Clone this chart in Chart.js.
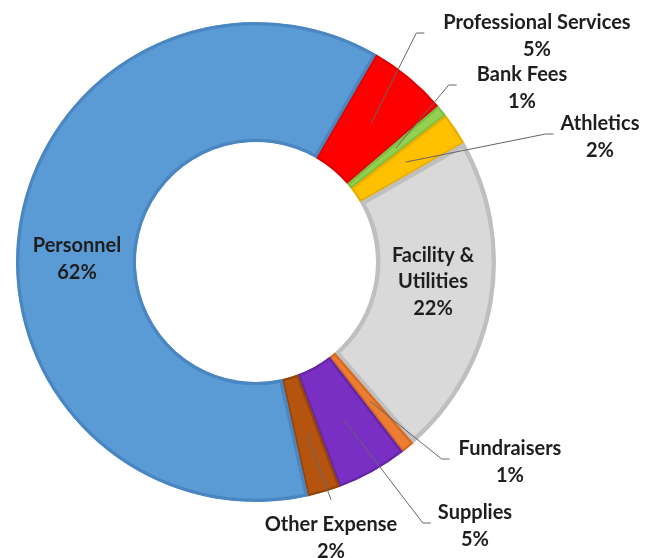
<!DOCTYPE html>
<html>
<head>
<meta charset="utf-8">
<script src="https://cdn.jsdelivr.net/npm/chart.js@4.4.0/dist/chart.umd.min.js"></script>
<style>
    html, body { margin: 0; padding: 0; background: #fff; }
    canvas { display: block; }
</style>
</head>
<body>
<canvas id="expenseChart" width="656" height="558"></canvas>
<script>
// Slices in drawing order, clockwise from the first one (Professional Services)
const categories = ['Professional Services', 'Bank Fees', 'Athletics', ['Facility &', 'Utilities'],
    'Fundraisers', 'Supplies', 'Other Expense', 'Personnel'];
// Share of total expenses, in percent
const shares = [5.4, 0.8, 2.2, 21.9, 0.9, 4.8, 2.2, 61.8];

const fillColors = ['#FF0000', '#92D050', '#FFC000', '#D9D9D9', '#ED7D31', '#7A2FC4', '#B4540F', '#5B9BD5'];
const edgeColors = ['#E00000', '#7EBD40', '#E8AE00', '#BFBFBF', '#D66A22', '#6527A6', '#95440A', '#4A87C2'];
const edgeWidths = [2, 2, 2, 4, 2, 2, 2, 3];

// Where each data label sits (offset from the ring centre) and how it hooks onto its slice
const labelSpots = [
    { dx: 281, dy: -226, hook: 'side', gap: 19 },
    { dx: 266, dy: -174, hook: 'side', gap: 20 },
    { dx: 344, dy: -125, hook: 'side', gap: 7 },
    { dx: 177, dy: 20, hook: 'none' },
    { dx: 254, dy: 200, hook: 'side', gap: 9 },
    { dx: 219, dy: 264, hook: 'side', gap: 7 },
    { dx: 75, dy: 276, hook: 'below' },
    { dx: -179, dy: -3, hook: 'none' }
];

// Draws Excel-style data labels with leader lines
const sliceLabels = {
    id: 'sliceLabels',
    afterDatasetsDraw(chart) {
        const ctx = chart.ctx;
        const meta = chart.getDatasetMeta(0);
        const total = shares.reduce((a, b) => a + b, 0);
        const lineH = 26.5;
        ctx.save();
        ctx.font = 'bold 20px Lato';
        ctx.textAlign = 'center';
        ctx.textBaseline = 'middle';
        meta.data.forEach((arc, i) => {
            const spot = labelSpots[i];
            const lines = [].concat(categories[i], Math.round(shares[i] / total * 100) + '%');
            const cx = arc.x + spot.dx;
            const cy = arc.y + spot.dy;
            const top = cy - (lines.length - 1) * lineH / 2;

            if (spot.hook !== 'none') {
                const a = arc.getCenterPoint();
                const w = Math.max(...lines.map(t => ctx.measureText(t).width));
                let ex, ey, bx, by;
                if (spot.hook === 'side') {
                    ex = cx - w / 2 - spot.gap; ey = cy - 3;
                    bx = ex - 8; by = ey;
                } else {
                    ex = cx; ey = top - 25;
                    bx = ex; by = ey;
                }
                ctx.beginPath();
                ctx.moveTo(a.x, a.y);
                ctx.lineTo(bx, by);
                ctx.lineTo(ex, ey);
                ctx.strokeStyle = '#666666';
                ctx.lineWidth = 1;
                ctx.stroke();
            }

            ctx.fillStyle = '#1e1e1e';
            lines.forEach((t, k) => ctx.fillText(t, cx, top + k * lineH));
        });
        ctx.restore();
    }
};

new Chart(document.getElementById('expenseChart'), {
    type: 'doughnut',
    data: {
        labels: categories,
        datasets: [{
            data: shares,
            backgroundColor: fillColors,
            borderColor: edgeColors,
            borderWidth: edgeWidths,
            borderAlign: 'inner',
            hoverOffset: 0
        }]
    },
    options: {
        responsive: false,
        animation: false,
        events: [],
        rotation: 30,
        cutout: '50%',
        layout: {
            padding: { left: 16, right: 160, top: 22, bottom: 56 }
        },
        plugins: {
            legend: { display: false },
            tooltip: { enabled: false }
        }
    },
    plugins: [sliceLabels]
});
</script>
</body>
</html>
